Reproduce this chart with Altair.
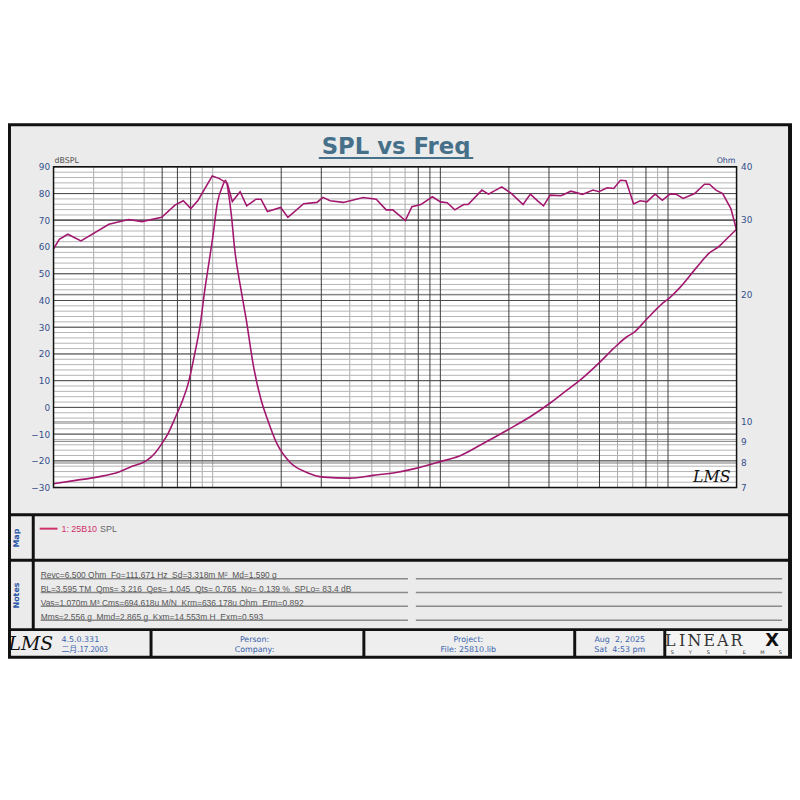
import altair as alt
import pandas as pd

# ---------------- data ----------------
spl_freq = [20, 21.2, 23.1, 26.4, 35, 42.8, 48.9, 59.7, 68.3, 74.3,
            80.2, 86.3, 99.6, 107, 116, 122, 132, 141, 155, 163,
            174, 199, 214, 251, 287, 305, 328, 375, 458, 523,
            578, 618, 702, 750, 821, 922, 1002, 1072, 1157, 1266,
            1324, 1522, 1627, 1860, 2055, 2308, 2485, 2681, 2839, 3036,
            3388, 3744, 4206, 4680, 4972, 5404, 5777, 6178, 6535, 7060,
            7548, 8071, 8776, 9441, 10190, 10820, 11650, 13090, 14460, 15200,
            16240, 17380, 18880, 20000]
spl_db = [59.3, 62.9, 64.8, 62.3, 68.5, 70.3, 69.5, 71.1, 75.7, 77.3,
          74.4, 77.5, 86.6, 85.6, 83.8, 77.0, 80.7, 75.4, 77.9, 77.9,
          73.3, 74.8, 71.1, 76.2, 76.7, 78.6, 77.3, 76.7, 78.5, 77.9,
          73.9, 73.9, 69.9, 75.1, 75.9, 78.8, 76.9, 76.6, 73.9, 75.9,
          75.9, 81.3, 79.8, 82.5, 80.0, 75.9, 79.8, 77.2, 75.4, 79.4,
          79.2, 80.9, 79.7, 81.3, 80.7, 82.2, 81.9, 85.0, 84.8, 76.1,
          77.3, 76.9, 79.8, 77.5, 79.8, 79.8, 78.2, 80.0, 83.5, 83.5,
          81.3, 80.0, 74.4, 66.4]

imp_freq = [20, 25, 31, 39, 44, 51, 56, 60, 64, 68,
            74, 78, 83, 88.5, 92, 97, 100, 105, 110, 114,
            118, 121, 125, 133, 140, 152, 163, 174, 192, 219,
            259, 307, 400, 506, 640, 780, 1000, 1205, 1520, 1990,
            2510, 3070, 3620, 4070, 5060, 5780, 6600, 7060, 8070, 9380,
            10190, 11270, 13300, 15200, 16800, 17660, 20000]
imp_ohm = [7.15, 7.28, 7.41, 7.63, 7.85, 8.09, 8.46, 8.91, 9.44, 10.15,
           11.3, 12.3, 14.3, 17.2, 20.2, 24.4, 27.2, 33.0, 35.8, 37.2,
           34.0, 30.5, 25.5, 20.6, 17.6, 13.3, 11.3, 10.15, 8.86, 8.02,
           7.6, 7.41, 7.37, 7.48, 7.6, 7.77, 8.06, 8.3, 8.86, 9.6,
           10.33, 11.13, 11.92, 12.5, 13.9, 14.93, 15.89, 16.24, 17.5, 18.97,
           19.66, 20.75, 23.1, 25.05, 26.0, 26.7, 28.5]

x_tick_values = [20, 50, 100, 200, 500, 1000, 2000, 5000, 10000, 20000]
db_tick_values = [90, 80, 70, 60, 50, 40, 30, 20, 10, 0, -10, -20, -30]
ohm_tick_values = [7, 8, 9, 10, 20, 30, 40]
grid_freqs = [m * d for d in (10, 100, 1000, 10000) for m in range(1, 10) if 20 <= m * d <= 20000]
dark_freqs = [60, 70, 80, 200, 300, 800, 900, 1000, 2000, 3000, 5000, 8000, 10000]
minor_db = list(range(-30, 91, 2))
major_db = list(range(-30, 91, 10))
ohm_grid = [8, 9, 10, 20, 30]

NB = "\u00a0"
title_text = "SPL vs Freq"
legend_id = "1: 25B10"
legend_name = "SPL"
notes_text = [
    "Revc=6.500 Ohm  Fo=111.671 Hz  Sd=3.318m M²  Md=1.590 g",
    "BL=3.595 TM  Qms= 3.216  Qes= 1.045  Qts= 0.765  No= 0.139 %  SPLo= 83.4 dB",
    "Vas=1.070m M³ Cms=694.618u M/N  Krm=636.178u Ohm  Erm=0.892",
    "Mms=2.556 g  Mmd=2.865 g  Kxm=14.553m H  Exm=0.593",
]
footer_lines = [("Person:", "Company:"), ("Project:", "File: 25810.lib"),
                ("Aug  2, 2025", "Sat  4:53 pm")]

# ---------------- layout ----------------
W, H = 690, 324
PX0, PY0 = 54, 165          # page position of the plot area
CURVE = "#a3176f"
LBL_BLUE = "#33508c"
XLBL = "#e0306a"
GRAY = "#ebebeb"

xs = alt.Scale(type="log", domain=[20, 20000], nice=False)
ys = alt.Scale(domain=[-30, 90], nice=False)
zs = alt.Scale(type="log", domain=[7, 40], nice=False)

one = pd.DataFrame({"a": [0]})


def nb(s):
    return s.replace("  ", NB + NB)


def rects(items):
    df = pd.DataFrame(items, columns=["x", "x2", "y", "y2", "fill"])
    df["x"] = df["x"] - PX0
    df["x2"] = df["x2"] - PX0
    df["y"] = df["y"] - PY0
    df["y2"] = df["y2"] - PY0
    return alt.Chart(df).mark_rect().encode(
        x=alt.X("x:Q", scale=None, axis=None), x2="x2:Q",
        y=alt.Y("y:Q", scale=None, axis=None), y2="y2:Q",
        fill=alt.Fill("fill:N", scale=None, legend=None))


def hrules(items, **kw):
    df = pd.DataFrame(items, columns=["x", "x2", "y"])
    df["x"] = df["x"] - PX0
    df["x2"] = df["x2"] - PX0
    df["y"] = df["y"] - PY0
    return alt.Chart(df).mark_rule(**kw).encode(
        x=alt.X("x:Q", scale=None, axis=None), x2="x2:Q",
        y=alt.Y("y:Q", scale=None, axis=None))


def texts(items, **kw):
    df = pd.DataFrame(items, columns=["x", "y", "t"])
    df["x"] = df["x"] - PX0
    df["y"] = df["y"] - PY0
    df["t"] = df["t"].map(nb)
    return alt.Chart(df).mark_text(**kw).encode(
        x=alt.X("x:Q", scale=None, axis=None),
        y=alt.Y("y:Q", scale=None, axis=None),
        text="t:N")


frame = rects([
    (8, 800, 121, 662, "#111111"),
    (11, 796, 124, 515, GRAY),
    (11, 32, 518, 561, GRAY),
    (35, 796, 518, 561, GRAY),
    (11, 32, 564, 631, GRAY),
    (35, 796, 564, 631, GRAY),
    (11, 151, 634, 659, "#eeeeee"),
    (154, 366, 634, 659, "#eeeeee"),
    (369, 579, 634, 659, "#eeeeee"),
    (582, 670, 634, 659, "#eeeeee"),
    (673, 796, 634, 659, "#f4f4f4"),
])

plot_bg = alt.Chart(one).mark_rect(fill="white").encode(
    x=alt.value(0), x2=alt.value(W), y=alt.value(0), y2=alt.value(H))

light_f = [f for f in grid_freqs if f not in dark_freqs]
vgrid_light = alt.Chart(pd.DataFrame({"f": light_f})).mark_rule(
    color="#aaaaaa", strokeWidth=1).encode(
    x=alt.X("f:Q", scale=xs, axis=None), y=alt.value(0), y2=alt.value(H))
vgrid_dark = alt.Chart(pd.DataFrame({"f": dark_freqs})).mark_rule(
    color="#3c3c3c", strokeWidth=1).encode(
    x=alt.X("f:Q", scale=xs, axis=None), y=alt.value(0), y2=alt.value(H))

hgrid_minor = alt.Chart(pd.DataFrame({"d": minor_db})).mark_rule(
    color="#b4b4b4", strokeWidth=1).encode(
    y=alt.Y("d:Q", scale=ys, axis=None), x=alt.value(0), x2=alt.value(W))
hgrid_ohm = alt.Chart(pd.DataFrame({"z": ohm_grid})).mark_rule(
    color="#777777", strokeWidth=1).encode(
    y=alt.Y("z:Q", scale=zs, axis=None), x=alt.value(0), x2=alt.value(W))
hgrid_major = alt.Chart(pd.DataFrame({"d": major_db})).mark_rule(
    color="#4a4a4a", strokeWidth=1).encode(
    y=alt.Y("d:Q", scale=ys, axis=None), x=alt.value(0), x2=alt.value(W))

x_axis = alt.Axis(
    values=x_tick_values, grid=False, domain=False, ticks=False, title=None,
    labelExpr="datum.value == 20 ? '20\u00a0\u00a0Hz' : (datum.value >= 1000 ? (datum.value / 1000) + 'K' : '' + datum.value)",
    labelColor=XLBL, labelFontSize=9, labelFont="DejaVu Sans", labelPadding=4,
    labelOverlap=False, labelAlign={"condition": {"test": "datum.value == 20", "value": "left"}, "value": "center"},
    zindex=1)
y_axis = alt.Axis(
    values=db_tick_values, grid=False, domain=False, ticks=False, title=None,
    labelColor=LBL_BLUE, labelFontSize=9, labelFont="DejaVu Sans", labelPadding=4,
    labelOverlap=False, zindex=1)
z_axis = alt.Axis(
    orient="right", values=ohm_tick_values, grid=False, domain=False, ticks=False,
    title=None, format="d", labelColor=LBL_BLUE, labelFontSize=9,
    labelFont="DejaVu Sans", labelPadding=4, labelOverlap=False, zindex=1)

spl_line = alt.Chart(pd.DataFrame({"f": spl_freq, "db": spl_db})).mark_line(
    color=CURVE, strokeWidth=1.6).encode(
    x=alt.X("f:Q", scale=xs, axis=x_axis),
    y=alt.Y("db:Q", scale=ys, axis=y_axis))
imp_line = alt.Chart(pd.DataFrame({"f": imp_freq, "z": imp_ohm})).mark_line(
    color=CURVE, strokeWidth=1.6, interpolate="monotone").encode(
    x=alt.X("f:Q", scale=xs, axis=None),
    y=alt.Y("z:Q", scale=zs, axis=z_axis))

border = alt.Chart(one).mark_rect(fillOpacity=0, stroke="#111111", strokeWidth=1.5).encode(
    x=alt.value(0), x2=alt.value(W), y=alt.value(0), y2=alt.value(H))

title = texts([(400, 145, title_text)], font="DejaVu Sans", fontSize=23,
              fontWeight="bold", color="#46708a", align="center", baseline="middle")
title_ul = hrules([(322, 478, 156)], color="#46708a", strokeWidth=2)

unit_l = texts([(55, 159, "dBSPL")], font="DejaVu Sans", fontSize=8, color="#555555",
               align="left", baseline="middle")
unit_r = texts([(743, 159, "Ohm")], font="DejaVu Sans", fontSize=8, color=LBL_BLUE,
               align="right", baseline="middle")
lms_plot = texts([(719, 478, "LMS")], font="DejaVu Serif", fontSize=16, fontStyle="italic",
                 color="#111111", align="center", baseline="middle")

side = texts([(17, 540, "Map"), (17, 598, "Notes")], font="DejaVu Sans", fontSize=8,
             fontWeight="bold", color="#2a56a8", align="center", baseline="middle", angle=270)

legend_line = hrules([(40, 58, 530.5)], color="#d0306a", strokeWidth=2)
legend_id_t = texts([(62, 530.5, legend_id)], font="Liberation Sans", fontSize=9,
                    color="#d0306a", align="left", baseline="middle")
legend_nm_t = texts([(101, 530.5, legend_name)], font="Liberation Sans", fontSize=9,
                    color="#666666", align="left", baseline="middle")

note_ys = [577.5, 591.5, 605.5, 619.5]
notes = texts([(41, yy, t) for yy, t in zip(note_ys, notes_text)], font="Liberation Sans",
              fontSize=8.5, color="#555555", align="left", baseline="middle")
note_rules = hrules([(41, 412, yy + 3.5) for yy in note_ys] + [(420, 790, yy + 3.5) for yy in note_ys],
                    color="#8a8a8a", strokeWidth=1.5)

footer_lms = texts([(31, 647, "LMS")], font="DejaVu Serif", fontSize=19, fontStyle="italic",
                   color="#111111", align="center", baseline="middle")
footer_ver = texts([(62, 642.5, "4.5.0.331")], font="DejaVu Sans", fontSize=8,
                   color="#3a64ad", align="left", baseline="middle")
footer_date = texts([(62, 653, "二月.17.2003")], font="Noto Sans CJK SC", fontSize=8,
                    color="#3a64ad", align="left", baseline="middle")
footer_cx = [257, 473, 626]
footer_mid = texts([(cx, 642.5, a) for cx, (a, b) in zip(footer_cx, footer_lines)] +
                   [(cx, 653, b) for cx, (a, b) in zip(footer_cx, footer_lines)],
                   font="DejaVu Sans", fontSize=8, color="#3a64ad", align="center", baseline="middle")
linear_letters = texts([(677, 644, "L"), (689, 644, "I"), (701.5, 644, "N"), (716.5, 644, "E"),
                        (730, 644, "A"), (744, 644, "R")],
                       font="DejaVu Serif", fontSize=16, fontWeight="lighter", color="#333333",
                       align="center", baseline="middle")
linear_x = texts([(780, 644, "X")], font="DejaVu Sans", fontSize=18, fontWeight="bold",
                 color="#111111", align="center", baseline="middle")
systems = texts([(679 + i * 18.2, 655.5, c) for i, c in enumerate("SYSTEMS")],
                font="DejaVu Sans", fontSize=5, color="#333333", align="center", baseline="middle")

chart = alt.layer(
    frame, plot_bg, vgrid_light, hgrid_minor, hgrid_ohm, hgrid_major, vgrid_dark,
    spl_line, imp_line, border,
    title, title_ul, unit_l, unit_r, lms_plot, side,
    legend_line, legend_id_t, legend_nm_t, notes, note_rules,
    footer_lms, footer_ver, footer_date, footer_mid, linear_letters, linear_x, systems,
).resolve_scale(y="independent").properties(
    width=W, height=H,
    padding={"left": PX0 - 8, "top": PY0 - 8, "right": 800 - 8 - (PX0 - 8) - W, "bottom": 199},
    autosize=alt.AutoSizeParams(type="none"),
    background="white",
).configure_view(strokeWidth=0)

chart.save("out.html", embed_options={"renderer": "svg", "actions": False})
